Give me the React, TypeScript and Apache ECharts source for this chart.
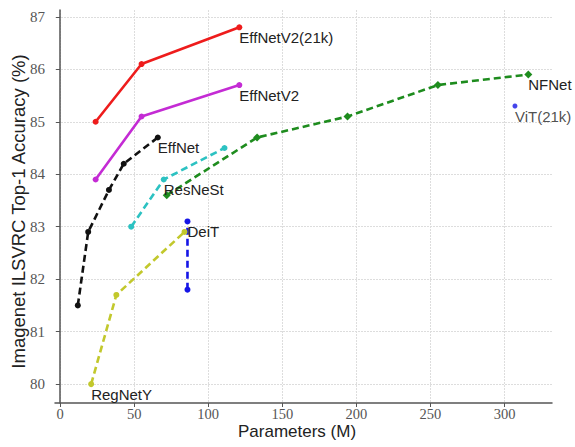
import React, { useEffect, useRef } from "react";
import * as echarts from "echarts";

const xTicks = [0, 50, 100, 150, 200, 250, 300];
const yTicks = [80, 81, 82, 83, 84, 85, 86, 87];

const effV2_21kX = [24, 55, 121];
const effV2_21kY = [85.0, 86.1, 86.8];
const effV2X = [24, 55, 121];
const effV2Y = [83.9, 85.1, 85.7];
const effNetX = [12, 19, 33, 43, 66];
const effNetY = [81.5, 82.9, 83.7, 84.2, 84.7];
const resnestX = [48, 70, 111];
const resnestY = [83.0, 83.9, 84.5];
const nfnetX = [72, 133, 194, 255, 316];
const nfnetY = [83.6, 84.7, 85.1, 85.7, 85.9];
const deitX = [86, 86];
const deitY = [81.8, 83.1];
const vitX = [307];
const vitY = [85.3];
const regnetX = [21, 38, 84];
const regnetY = [80.0, 81.7, 82.9];

const labelNames = {
  effV2_21k: "EffNetV2(21k)",
  effV2: "EffNetV2",
  effNet: "EffNet",
  resnest: "ResNeSt",
  nfnet: "NFNet",
  deit: "DeiT",
  vit: "ViT(21k)",
  regnet: "RegNetY",
};

function buildData(xs: number[], ys: number[], labelIdx: number, text: string, size: number) {
  return xs.map((x, i) => {
    const item: any = { value: [x, ys[i]] };
    if (i === labelIdx) {
      item.label = {
        show: true,
        formatter: text,
        position: "right",
        distance: 0,
        offset: [-size / 2, 10],
        fontFamily: "Liberation Sans",
        fontSize: 15,
        color: "#222",
      };
    }
    return item;
  });
}

export default function App() {
  const ref = useRef<HTMLDivElement>(null);
  useEffect(() => {
    if (!ref.current) return;
    const chart = echarts.init(ref.current, undefined, { renderer: "svg" });
    const mk = (
      name: string,
      xs: number[],
      ys: number[],
      labelIdx: number,
      color: string,
      dashed: boolean,
      symbol = "circle",
      size = 6,
      showLine = true
    ) => ({
      type: showLine ? "line" : "scatter",
      name,
      data: buildData(xs, ys, labelIdx, name, size),
      symbol,
      symbolSize: size,
      showSymbol: true,
      clip: false,
      itemStyle: { color },
      lineStyle: { color, width: 2.6, type: dashed ? [7, 4] : "solid" },
      z: 3,
    });
    chart.setOption({
      animation: false,
      backgroundColor: "#fff",
      grid: {
        left: 55,
        right: 23,
        top: 10,
        bottom: 44,
        containLabel: false,
        outerBoundsMode: "none",
      },
      xAxis: {
        type: "value",
        min: -3.4,
        max: 332,
        name: "Parameters (M)",
        nameLocation: "middle",
        nameGap: 20,
        nameMoveOverlap: false,
        nameTextStyle: {
          fontFamily: "Liberation Sans",
          fontSize: 17,
          color: "#222",
          padding: [0, 13, 0, 0],
        },
        axisLine: { show: true, lineStyle: { color: "#555", width: 1.5 } },
        axisTick: { show: true, customValues: xTicks, length: 4, lineStyle: { color: "#555" } },
        axisLabel: {
          customValues: xTicks,
          margin: 3,
          fontFamily: "Liberation Serif",
          fontSize: 14.5,
          color: "#555",
        },
        splitLine: { show: true, lineStyle: { color: "#ddd", type: [2, 1], width: 1 } },
      },
      yAxis: {
        type: "value",
        min: 79.64,
        max: 87.13,
        name: "Imagenet ILSVRC Top-1 Accuracy (%)",
        nameLocation: "middle",
        nameGap: 27,
        nameMoveOverlap: false,
        nameTextStyle: {
          fontFamily: "Liberation Sans",
          fontSize: 18.5,
          color: "#222",
          padding: [0, 10, 0, 0],
        },
        axisLine: { show: true, lineStyle: { color: "#555", width: 1.5 } },
        axisTick: { show: true, customValues: yTicks, length: 4, lineStyle: { color: "#555" } },
        axisLabel: {
          customValues: yTicks,
          margin: 10,
          fontFamily: "Liberation Serif",
          fontSize: 15,
          color: "#555",
        },
        splitLine: { show: true, lineStyle: { color: "#ddd", type: [2, 1], width: 1 } },
      },
      series: [
        mk(labelNames.effV2_21k, effV2_21kX, effV2_21kY, 2, "#ee1c1c", false),
        mk(labelNames.effV2, effV2X, effV2Y, 2, "#c42bd4", false),
        mk(labelNames.effNet, effNetX, effNetY, 4, "#111111", true),
        mk(labelNames.resnest, resnestX, resnestY, 1, "#2cc2c2", true),
        mk(labelNames.nfnet, nfnetX, nfnetY, 4, "#1e8c1e", true, "diamond", 8),
        mk(labelNames.deit, deitX, deitY, 1, "#1515e6", true),
        mk(labelNames.vit, vitX, vitY, 0, "#1515e6", false, "circle", 5, false),
        mk(labelNames.regnet, regnetX, regnetY, 0, "#c2c82c", true),
      ],
    });
    return () => chart.dispose();
  }, []);
  return (
    <div
      ref={ref}
      style={{ position: "absolute", left: 0, top: 0, width: 575, height: 447 }}
    />
  );
}
